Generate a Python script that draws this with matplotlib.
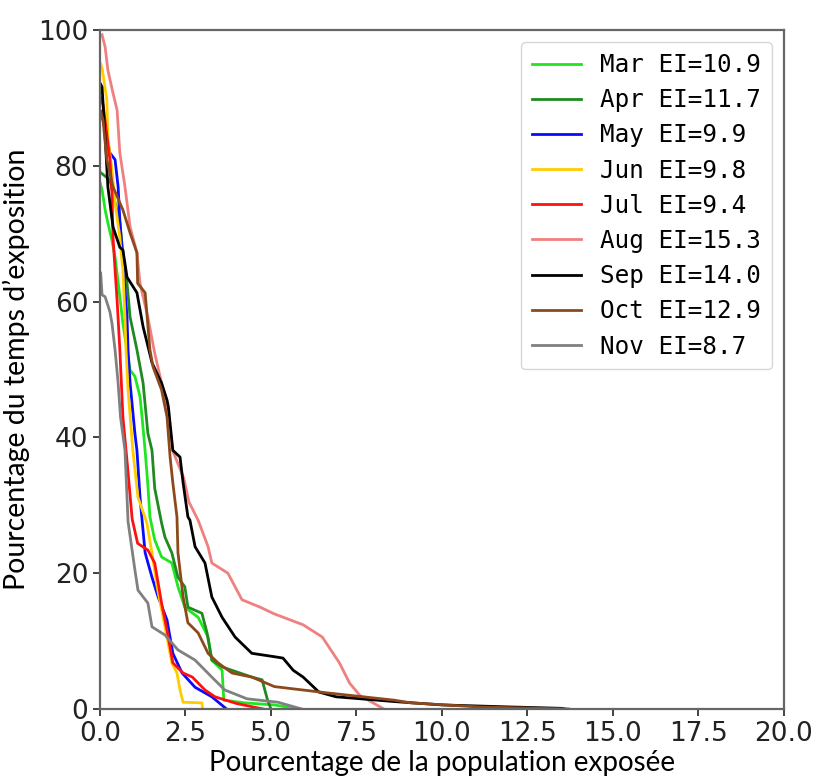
import matplotlib.pyplot as plt

# exposure curves: % of population exposed (x) vs % of exposure time (y)
months = ["Mar", "Apr", "May", "Jun", "Jul", "Aug", "Sep", "Oct", "Nov"]
ei_values = [10.9, 11.7, 9.9, 9.8, 9.4, 15.3, 14.0, 12.9, 8.7]
colors = ["#1fe61f", "#1f8a1f", "#0a0aff", "#ffcc00", "#ff1010",
          "#f08080", "#000000", "#8c4a1c", "#808080"]

mar_x = [0.0, 0.06, 0.15, 0.23, 0.35, 0.44, 0.55, 0.67, 0.82, 0.88, 1.02, 1.17, 1.23, 1.32, 1.4,
         1.46, 1.6, 1.8, 2.1, 2.28, 2.48, 2.87, 3.16, 3.27, 3.57, 3.62, 4.24, 5.1, 5.8]
mar_y = [77.5, 76.5, 73.5, 71.6, 69.0, 66.6, 62.0, 56.8, 51.8, 49.9, 49.0, 46.0, 43.0, 38.0, 33.0,
         28.3, 24.9, 22.4, 21.5, 18.0, 15.0, 13.5, 10.6, 7.2, 5.7, 1.3, 0.9, 0.6, 0.0]

apr_x = [0.02, 0.29, 0.58, 0.73, 0.79, 0.88, 1.08, 1.26, 1.4, 1.52, 1.6, 1.8, 1.9, 2.1, 2.28,
         2.48, 2.57, 2.98, 3.13, 3.27, 3.57, 4.44, 4.74, 4.9, 5.0]
apr_y = [79.0, 77.9, 71.6, 64.2, 62.7, 57.7, 52.9, 48.0, 40.6, 38.1, 32.5, 27.4, 25.3, 23.0, 19.4,
         18.0, 15.0, 14.1, 11.2, 7.2, 6.2, 4.7, 4.3, 1.3, 0.0]

may_x = [0.02, 0.09, 0.29, 0.44, 0.53, 0.58, 0.67, 0.79, 0.82, 0.88, 1.02, 1.08, 1.17, 1.23,
         1.32, 1.52, 1.7, 1.96, 2.13, 2.4, 2.78, 3.27, 3.7]
may_y = [88.0, 86.7, 81.9, 80.9, 76.9, 72.0, 66.0, 57.7, 52.9, 48.0, 40.6, 38.1, 31.2, 27.8,
         23.0, 19.4, 16.5, 13.1, 8.2, 5.3, 3.2, 1.8, 0.0]

jun_x = [0.02, 0.06, 0.2, 0.23, 0.35, 0.44, 0.58, 0.64, 0.67, 0.73, 0.76, 0.82, 0.96, 1.11, 1.37,
         1.52, 1.67, 1.9, 2.1, 2.25, 2.34, 2.43, 2.98, 3.0]
jun_y = [95.0, 94.4, 89.7, 84.2, 79.4, 74.5, 69.5, 66.1, 64.7, 57.7, 52.9, 47.0, 38.1, 31.2, 27.4,
         23.0, 18.0, 12.1, 6.8, 5.3, 2.8, 1.0, 0.9, 0.0]

jul_x = [0.02, 0.09, 0.29, 0.35, 0.38, 0.44, 0.5, 0.58, 0.67, 0.8, 0.94, 1.1, 1.4, 1.6, 1.8,
         1.96, 2.13, 2.43, 2.7, 3.07, 3.36, 4.0, 4.77]
jul_y = [90.0, 89.0, 80.9, 76.0, 69.5, 64.7, 60.2, 52.9, 43.0, 36.0, 28.0, 24.4, 23.4, 21.5, 15.6,
         11.6, 6.8, 5.3, 4.7, 2.8, 1.8, 0.8, 0.0]

aug_x = [0.06, 0.15, 0.23, 0.38, 0.5, 0.58, 0.73, 0.88, 1.08, 1.17, 1.4, 1.6, 1.8, 1.96, 2.13,
         2.45, 2.6, 2.87, 3.16, 3.27, 3.74, 4.15, 4.68, 5.1, 5.94, 6.5, 7.0, 7.3, 7.6, 8.3]
aug_y = [99.3, 97.5, 94.1, 90.7, 88.2, 81.9, 76.9, 71.0, 67.2, 62.7, 57.7, 52.4, 48.0, 44.0, 38.0,
         34.0, 30.5, 27.8, 23.9, 21.5, 20.0, 16.1, 15.0, 14.0, 12.4, 10.6, 6.8, 3.8, 2.0, 0.0]

sep_x = [0.02, 0.06, 0.15, 0.23, 0.38, 0.58, 0.67, 0.79, 1.08, 1.26, 1.52, 1.8, 1.96, 2.0, 2.13,
         2.34, 2.43, 2.57, 2.63, 2.78, 3.07, 3.27, 3.57, 3.95, 4.44, 5.1, 5.35, 5.65, 5.94, 6.4,
         6.9, 8.6, 10.0, 12.0, 13.5, 13.6]
sep_y = [92.0, 91.6, 84.2, 76.9, 71.0, 68.0, 67.6, 63.6, 61.3, 56.3, 51.0, 48.0, 45.5, 44.5, 38.1,
         37.1, 33.3, 28.3, 27.8, 23.9, 21.5, 16.5, 13.5, 10.6, 8.2, 7.7, 7.5, 5.7, 4.7, 2.5,
         1.8, 1.1, 0.6, 0.3, 0.1, 0.0]

oct_x = [0.02, 0.09, 0.2, 0.38, 0.67, 0.88, 1.08, 1.1, 1.32, 1.46, 1.55, 1.8, 1.96, 2.05, 2.13,
         2.25, 2.28, 2.43, 2.57, 2.87, 3.16, 3.45, 3.86, 4.44, 5.1, 6.6, 8.6, 9.1, 11.1, 13.7]
oct_y = [88.0, 86.7, 80.9, 76.9, 73.5, 70.1, 67.2, 62.7, 61.3, 52.9, 50.4, 47.0, 43.0, 37.1, 33.3,
         28.3, 23.0, 16.5, 12.7, 11.2, 8.2, 6.8, 5.3, 4.7, 3.3, 2.4, 1.3, 0.9, 0.3, 0.0]

nov_x = [0.02, 0.06, 0.15, 0.29, 0.35, 0.44, 0.53, 0.6, 0.73, 0.8, 0.82, 1.02, 1.11, 1.4, 1.52,
         1.9, 2.28, 2.78, 3.27, 3.65, 4.3, 5.2, 5.9]
nov_y = [64.2, 61.0, 60.7, 58.5, 56.8, 52.9, 48.0, 43.0, 38.1, 30.0, 27.6, 20.5, 17.5, 15.6, 12.1,
         10.9, 8.7, 7.2, 4.7, 2.8, 1.5, 1.0, 0.0]

series_x = [mar_x, apr_x, may_x, jun_x, jul_x, aug_x, sep_x, oct_x, nov_x]
series_y = [mar_y, apr_y, may_y, jun_y, jul_y, aug_y, sep_y, oct_y, nov_y]

fig = plt.figure(figsize=(8.17, 7.83), dpi=100)
ax = fig.add_axes([0.1224, 0.0945, 0.8372, 0.8672])

for m, ei, c, xs, ys in zip(months, ei_values, colors, series_x, series_y):
    ax.plot(xs, ys, color=c, linewidth=2.0, label=f"{m} EI={ei}")

ax.set_xlim(0, 20)
ax.set_ylim(0, 100)
ax.set_xticks([0, 2.5, 5, 7.5, 10, 12.5, 15, 17.5, 20])
ax.set_xticklabels(["0.0", "2.5", "5.0", "7.5", "10.0", "12.5", "15.0", "17.5", "20.0"])
ax.set_yticks([0, 20, 40, 60, 80, 100])
ax.tick_params(labelsize=19, colors="#222222", length=5, width=1.2)
for s in ax.spines.values():
    s.set_color("#666666")
    s.set_linewidth(1.6)

ax.set_xlabel("Pourcentage de la population exposée", fontsize=20, family="Lato", labelpad=2)
ax.set_ylabel("Pourcentage du temps d\u2019exposition", fontsize=20.5, family="Lato", labelpad=6)

leg = ax.legend(loc="upper right", prop={"family": "DejaVu Sans Mono", "size": 17.5},
                labelspacing=0.46, handlelength=2.0, borderpad=0.45)
leg.get_frame().set_edgecolor("#cccccc")

fig.savefig("out.png", dpi=100)
